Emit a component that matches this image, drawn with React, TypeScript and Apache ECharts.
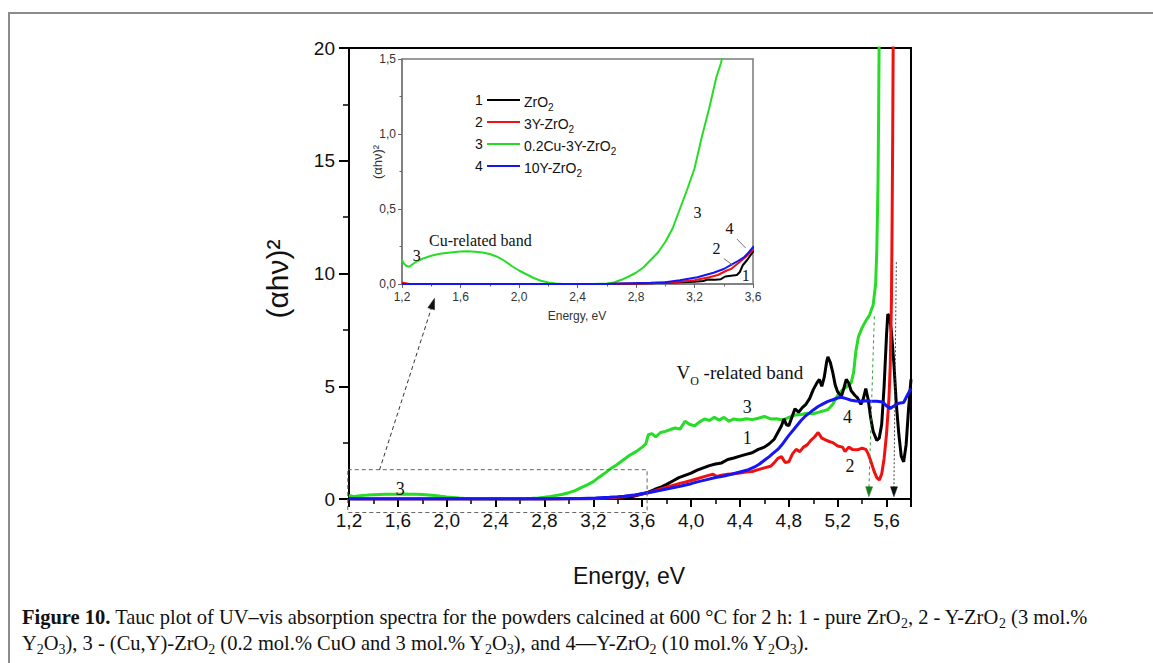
import React, { useEffect, useRef } from "react";
import * as echarts from "echarts";

// ---------- data: [photon energy (eV), (alpha h nu)^2] ----------
const zro2: number[][] = [
  [1.2, 0], [1.6, 0], [2.0, 0], [2.4, 0], [2.6, 0], [2.8, 0.003], [2.9, 0.005], [3.0, 0.008], [3.1, 0.012], [3.2, 0.015],
  [3.26, 0.02], [3.29, 0.03], [3.34, 0.028], [3.38, 0.032], [3.41, 0.05], [3.45, 0.055], [3.49, 0.06], [3.51, 0.08],
  [3.53, 0.125], [3.56, 0.16], [3.6, 0.215], [3.65, 0.3], [3.7, 0.42], [3.75, 0.52], [3.8, 0.65], [3.85, 0.8], [3.9, 0.95],
  [3.95, 1.05], [4.0, 1.15], [4.05, 1.28], [4.1, 1.38], [4.15, 1.48], [4.2, 1.55], [4.25, 1.6], [4.3, 1.75], [4.35, 1.82],
  [4.4, 1.9], [4.45, 1.98], [4.5, 2.05], [4.55, 2.2], [4.6, 2.3], [4.64, 2.45], [4.68, 2.65], [4.71, 2.95], [4.74, 3.25],
  [4.76, 3.55], [4.78, 3.3], [4.8, 3.25], [4.83, 3.7], [4.85, 4.0], [4.88, 3.85], [4.91, 4.05], [4.94, 4.2], [4.97, 4.45],
  [5.0, 4.85], [5.03, 5.15], [5.05, 5.3], [5.07, 5.0], [5.09, 5.4], [5.11, 6.1], [5.12, 6.3], [5.14, 6.05], [5.16, 5.6],
  [5.18, 5.05], [5.2, 4.75], [5.23, 4.55], [5.25, 4.9], [5.27, 5.3], [5.29, 5.15], [5.31, 4.8], [5.34, 4.6], [5.36, 4.5],
  [5.39, 4.2], [5.41, 4.45], [5.43, 4.9], [5.45, 4.4], [5.47, 3.6], [5.49, 3.0], [5.52, 2.6], [5.54, 2.7], [5.56, 3.3],
  [5.58, 5.0], [5.6, 7.3], [5.61, 8.2], [5.625, 8.1], [5.64, 7.4], [5.66, 6.0], [5.68, 4.2], [5.7, 2.9], [5.72, 1.9],
  [5.74, 1.65], [5.76, 2.4], [5.78, 4.0], [5.8, 5.3],
];

const y3zro2: number[][] = [
  [1.2, 0.01], [1.25, 0], [2.6, 0], [2.8, 0.003], [2.9, 0.005], [3.0, 0.01], [3.1, 0.015], [3.2, 0.025], [3.3, 0.045],
  [3.36, 0.06], [3.42, 0.09], [3.45, 0.1], [3.5, 0.14], [3.55, 0.18], [3.6, 0.227], [3.65, 0.28], [3.7, 0.36], [3.75, 0.45],
  [3.8, 0.52], [3.85, 0.6], [3.9, 0.68], [3.95, 0.75], [4.0, 0.82], [4.05, 0.9], [4.1, 0.98], [4.15, 1.06], [4.18, 1.1],
  [4.21, 1.0], [4.25, 1.05], [4.3, 1.1], [4.35, 1.12], [4.4, 1.15], [4.45, 1.2], [4.5, 1.22], [4.55, 1.3], [4.6, 1.38],
  [4.65, 1.45], [4.68, 1.6], [4.71, 1.8], [4.74, 1.88], [4.77, 1.62], [4.8, 1.65], [4.83, 2.0], [4.86, 2.2], [4.89, 2.1],
  [4.92, 2.3], [4.95, 2.4], [4.98, 2.6], [5.01, 2.75], [5.04, 2.95], [5.07, 2.7], [5.1, 2.62], [5.13, 2.55], [5.16, 2.5],
  [5.2, 2.35], [5.24, 2.3], [5.26, 2.1], [5.29, 2.3], [5.32, 2.2], [5.36, 2.18], [5.4, 2.25], [5.43, 2.2], [5.45, 2.0],
  [5.47, 1.7], [5.5, 1.2], [5.52, 0.95], [5.54, 0.84], [5.56, 1.1], [5.58, 1.8], [5.6, 2.9], [5.62, 4.5], [5.63, 5.9],
  [5.64, 8.8], [5.645, 12], [5.65, 16], [5.655, 21],
];

const cuY3zro2: number[][] = [
  [1.2, 0.16], [1.21, 0.14], [1.23, 0.12], [1.25, 0.115], [1.27, 0.13], [1.3, 0.15], [1.35, 0.172], [1.4, 0.188],
  [1.45, 0.2], [1.5, 0.207], [1.55, 0.212], [1.6, 0.216], [1.65, 0.218], [1.7, 0.215], [1.75, 0.21], [1.8, 0.2],
  [1.85, 0.182], [1.9, 0.155], [1.95, 0.12], [2.0, 0.09], [2.05, 0.065], [2.1, 0.04], [2.15, 0.022], [2.2, 0.01],
  [2.25, 0.003], [2.3, 0], [2.4, 0], [2.5, 0], [2.6, 0.003], [2.65, 0.01], [2.7, 0.028], [2.75, 0.05], [2.8, 0.075],
  [2.85, 0.11], [2.9, 0.16], [2.95, 0.21], [3.0, 0.28], [3.05, 0.37], [3.1, 0.5], [3.15, 0.63], [3.2, 0.77], [3.25, 0.98],
  [3.3, 1.17], [3.35, 1.38], [3.38, 1.47], [3.4, 1.55], [3.45, 1.75], [3.5, 1.95], [3.55, 2.1], [3.6, 2.3], [3.63, 2.45],
  [3.65, 2.85], [3.68, 2.9], [3.71, 2.75], [3.75, 2.95], [3.79, 3.0], [3.83, 3.08], [3.87, 3.15], [3.91, 3.1], [3.95, 3.45],
  [3.99, 3.3], [4.03, 3.25], [4.07, 3.42], [4.11, 3.55], [4.15, 3.48], [4.19, 3.62], [4.23, 3.5], [4.27, 3.62], [4.31, 3.45],
  [4.35, 3.55], [4.4, 3.5], [4.45, 3.56], [4.5, 3.52], [4.55, 3.58], [4.6, 3.66], [4.65, 3.55], [4.7, 3.56], [4.75, 3.5],
  [4.8, 3.62], [4.85, 3.72], [4.9, 3.75], [4.95, 3.8], [5.0, 3.78], [5.04, 3.84], [5.08, 3.9], [5.12, 3.97], [5.16, 4.2],
  [5.2, 4.6], [5.24, 4.85], [5.28, 5.0], [5.31, 5.15], [5.33, 5.6], [5.35, 6.6], [5.37, 7.2], [5.4, 7.6], [5.43, 7.9],
  [5.46, 8.15], [5.49, 8.6], [5.51, 9.5], [5.52, 11], [5.53, 14], [5.535, 17], [5.54, 21],
];

const y10zro2: number[][] = [
  [1.2, 0], [2.6, 0], [2.77, 0.005], [2.9, 0.008], [3.0, 0.012], [3.1, 0.025], [3.22, 0.045], [3.33, 0.075], [3.4, 0.1],
  [3.45, 0.127], [3.5, 0.155], [3.54, 0.18], [3.57, 0.21], [3.6, 0.245], [3.65, 0.28], [3.7, 0.33], [3.78, 0.42],
  [3.85, 0.5], [3.92, 0.58], [4.0, 0.68], [4.06, 0.77], [4.13, 0.86], [4.2, 0.95], [4.27, 1.02], [4.33, 1.1], [4.4, 1.2],
  [4.47, 1.3], [4.52, 1.42], [4.56, 1.55], [4.6, 1.72], [4.64, 1.88], [4.67, 2.02], [4.71, 2.2], [4.74, 2.38], [4.77, 2.6],
  [4.8, 2.82], [4.84, 3.08], [4.87, 3.28], [4.9, 3.48], [4.93, 3.65], [4.97, 3.82], [5.0, 3.95], [5.04, 4.1], [5.08, 4.22],
  [5.12, 4.33], [5.16, 4.4], [5.2, 4.48], [5.23, 4.51], [5.27, 4.45], [5.31, 4.38], [5.35, 4.35], [5.39, 4.33], [5.43, 4.36],
  [5.47, 4.33], [5.52, 4.33], [5.57, 4.3], [5.6, 4.12], [5.63, 4.02], [5.66, 4.12], [5.7, 4.25], [5.74, 4.28], [5.77, 4.6],
  [5.8, 4.9],
];

const seriesNumbers = ["1", "2", "3", "4"];
const seriesNames = ["ZrO2", "3Y-ZrO2", "0.2Cu-3Y-ZrO2", "10Y-ZrO2"];
const seriesRichNames = ["ZrO{s|2}", "3Y-ZrO{s|2}", "0.2Cu-3Y-ZrO{s|2}", "10Y-ZrO{s|2}"];
const seriesColors = ["#000000", "#f01010", "#26dc26", "#1515f5"];
const seriesData = [zro2, y3zro2, cuY3zro2, y10zro2];
const drawOrder = [2, 0, 1, 3];

// annotation anchors in data coordinates
const mainCurveLabels: [string, number, number][] = [
  ["3", 4.46, 4.1], ["1", 4.46, 2.7], ["4", 5.28, 3.65], ["2", 5.3, 1.48], ["3", 1.62, 0.44],
];
const insetCurveLabels: [string, number, number][] = [
  ["3", 1.3, 0.19], ["3", 3.22, 0.48], ["2", 3.35, 0.24], ["4", 3.44, 0.37], ["1", 3.55, 0.06],
];
const insetLeaders: number[][] = [
  [3.4, 0.17, 3.46, 0.127],
  [3.49, 0.3, 3.55, 0.24],
];
const zoomBox = [1.19, 3.64, -0.6, 1.3];

const captionLines = [
  "{b|Figure 10.} Tauc plot of UV–vis absorption spectra for the powders calcined at 600 °C for 2 h: 1 - pure ZrO{s|2}, 2 - Y-ZrO{s|2} (3 mol.%",
  "Y{s|2}O{s|3}), 3 - (Cu,Y)-ZrO{s|2} (0.2 mol.% CuO and 3 mol.% Y{s|2}O{s|3}), and 4—Y-ZrO{s|2} (10 mol.% Y{s|2}O{s|3}).",
];

const SANS = '"Liberation Sans", Arial, sans-serif';
const SERIF = '"Liberation Serif", "Times New Roman", serif';

const fmt1 = (v: number) => {
  const r = Math.round(v * 10) / 10;
  if (Math.abs(Math.round(r * 10) % 4) !== 0) return "";
  return r.toFixed(1).replace(".", ",");
};
const fmtInsetY = (v: number) => (Math.round(v * 10) / 10).toFixed(1).replace(".", ",");

function measureRich(raw: string, fs: number) {
  const ctx = document.createElement("canvas").getContext("2d");
  if (!ctx) return 0;
  const re = /\{(\w+)\|([^}]*)\}|([^{]+)/g;
  let m: RegExpExecArray | null;
  let w = 0;
  while ((m = re.exec(raw))) {
    const style = m[1] || "";
    const t = m[1] ? m[2] : m[3];
    const size = style === "s" ? fs * 0.68 : fs;
    ctx.font = (style === "b" ? "bold " : "") + size + 'px "Liberation Serif"';
    w += ctx.measureText(t).width;
  }
  return w;
}

function arrowHead(tip: number[], from: number[], len: number, wid: number, color: string) {
  const dx = tip[0] - from[0];
  const dy = tip[1] - from[1];
  const d = Math.sqrt(dx * dx + dy * dy) || 1;
  const ux = dx / d, uy = dy / d;
  const bx = tip[0] - ux * len, by = tip[1] - uy * len;
  const nx = -uy * wid / 2, ny = ux * wid / 2;
  return {
    type: "polygon",
    z: 100,
    shape: { points: [[tip[0], tip[1]], [bx + nx, by + ny], [bx - nx, by - ny]] },
    style: { fill: color, stroke: color, lineWidth: 0.5 },
  };
}

export default function App() {
  const ref = useRef<HTMLDivElement>(null);
  useEffect(() => {
    if (!ref.current) return;
    const chart = echarts.init(ref.current, null, { renderer: "svg" });

    const mainSeries = drawOrder.map((i) => ({
      type: "line",
      name: seriesNames[i],
      xAxisIndex: 0,
      yAxisIndex: 0,
      data: seriesData[i],
      showSymbol: false,
      symbol: "none",
      clip: true,
      lineStyle: { color: seriesColors[i], width: 3 },
      z: 2,
    }));
    const insetSeries = drawOrder.map((i) => ({
      type: "line",
      name: seriesNames[i] + " (inset)",
      xAxisIndex: 1,
      yAxisIndex: 1,
      data: seriesData[i],
      showSymbol: false,
      symbol: "none",
      clip: true,
      lineStyle: { color: seriesColors[i], width: 2 },
      z: 3,
    }));

    const option: any = {
      animation: false,
      backgroundColor: "#ffffff",
      grid: [
        { left: 349, top: 48, width: 562, height: 451, show: true, borderColor: "#000", borderWidth: 2, backgroundColor: "transparent" },
        { left: 402, top: 59, width: 351, height: 225, show: true, borderColor: "#7a7a7a", borderWidth: 1.5, backgroundColor: "#ffffff" },
      ],
      xAxis: [
        {
          gridIndex: 0, type: "value", min: 1.2, max: 5.8, interval: 0.4,
          axisLine: { show: true, onZero: false, lineStyle: { color: "#000", width: 2 } },
          axisTick: { show: true, length: 8, lineStyle: { color: "#000", width: 2 } },
          minorTick: { show: true, splitNumber: 2, length: 5, lineStyle: { color: "#000", width: 1.5 } },
          splitLine: { show: false }, minorSplitLine: { show: false },
          axisLabel: { fontSize: 19, color: "#111", fontFamily: SANS, margin: 12, showMaxLabel: false, formatter: fmt1 },
        },
        {
          gridIndex: 1, type: "value", min: 1.2, max: 3.6, interval: 0.4,
          axisLine: { show: true, onZero: false, lineStyle: { color: "#7a7a7a", width: 1.5 } },
          axisTick: { show: true, length: 4, lineStyle: { color: "#666", width: 1 } },
          minorTick: { show: true, splitNumber: 2, length: 2.5, lineStyle: { color: "#666", width: 1 } },
          splitLine: { show: false }, minorSplitLine: { show: false },
          axisLabel: { fontSize: 12, color: "#333", fontFamily: SANS, margin: 7, formatter: fmt1 },
        },
      ],
      yAxis: [
        {
          gridIndex: 0, type: "value", min: 0, max: 20, interval: 5,
          axisLine: { show: true, lineStyle: { color: "#000", width: 2 } },
          axisTick: { show: true, length: 10, lineStyle: { color: "#000", width: 2 } },
          minorTick: { show: true, splitNumber: 2, length: 6, lineStyle: { color: "#000", width: 1.5 } },
          splitLine: { show: false }, minorSplitLine: { show: false },
          axisLabel: { fontSize: 19, color: "#111", fontFamily: SANS, margin: 14 },
        },
        {
          gridIndex: 1, type: "value", min: 0, max: 1.5, interval: 0.5,
          axisLine: { show: true, lineStyle: { color: "#7a7a7a", width: 1.5 } },
          axisTick: { show: true, length: 4, lineStyle: { color: "#666", width: 1 } },
          minorTick: { show: true, splitNumber: 2, length: 2.5, lineStyle: { color: "#666", width: 1 } },
          splitLine: { show: false }, minorSplitLine: { show: false },
          axisLabel: { fontSize: 12, color: "#333", fontFamily: SANS, margin: 6, formatter: fmtInsetY },
        },
      ],
      series: [...mainSeries, ...insetSeries],
    };
    chart.setOption(option);

    const P = (e: number, v: number) => chart.convertToPixel({ gridIndex: 0 } as any, [e, v]) as number[];
    const Q = (e: number, v: number) => chart.convertToPixel({ gridIndex: 1 } as any, [e, v]) as number[];

    const els: any[] = [];
    const text = (x: number, y: number, t: string, s: any) =>
      els.push({ type: "text", x, y, z: 100, style: { text: t, fill: "#111", align: "center", verticalAlign: "middle", ...s } });

    // outer figure frame
    els.push({ type: "rect", z: 100, shape: { x: 9, y: 13, width: 1300, height: 800 }, style: { fill: "none", stroke: "#8c8c8c", lineWidth: 2 } });

    // axis titles
    text(629, 576, "Energy, eV", { fontFamily: SANS, fontSize: 23 });
    els.push({ type: "text", x: 277, y: 279, rotation: Math.PI / 2, z: 100,
      style: { text: "(αhν)²", fill: "#111", fontFamily: SANS, fontSize: 30, align: "center", verticalAlign: "middle" } });
    text(577, 316, "Energy, eV", { fontFamily: SANS, fontSize: 12, fill: "#333" });
    els.push({ type: "text", x: 377, y: 162, rotation: Math.PI / 2, z: 100,
      style: { text: "(αhν)²", fill: "#333", fontFamily: SANS, fontSize: 13, align: "center", verticalAlign: "middle" } });

    // curve numbers on main plot
    mainCurveLabels.forEach(([t, e, v]) => {
      const p = P(e, v);
      text(p[0], p[1], t, { fontFamily: SERIF, fontSize: 18 });
    });
    const vo = P(3.88, 5.6);
    els.push({ type: "text", x: vo[0], y: vo[1], z: 100,
      style: { text: "V{s|O} -related band", fill: "#111", fontFamily: SERIF, fontSize: 19, lineHeight: 28, align: "left", verticalAlign: "middle",
        rich: { s: { fontFamily: SERIF, fontSize: 12, lineHeight: 12, verticalAlign: "bottom" } } } });

    // dashed zoom box and arrow to inset
    const b1 = P(zoomBox[0], zoomBox[3]);
    const b2 = P(zoomBox[1], zoomBox[2]);
    els.push({ type: "rect", z: 100, shape: { x: b1[0], y: b1[1], width: b2[0] - b1[0], height: b2[1] - b1[1] },
      style: { fill: "none", stroke: "#666", lineWidth: 1, lineDash: [4, 3] } });
    const a0 = P(1.45, 1.29);
    const a1 = P(1.9, 8.9);
    els.push({ type: "line", z: 100, shape: { x1: a0[0], y1: a0[1], x2: a1[0] - (a1[0] - a0[0]) * 0.05, y2: a1[1] - (a1[1] - a0[1]) * 0.05 },
      style: { stroke: "#333", lineWidth: 1, lineDash: [4, 3] } });
    els.push(arrowHead(a1, a0, 11, 7, "#111"));

    // band-gap arrows
    const g0 = P(5.5, 8.1), g1 = P(5.455, 0.1);
    els.push({ type: "line", z: 100, shape: { x1: g0[0], y1: g0[1], x2: g1[0], y2: g1[1] - 6 }, style: { stroke: "#3a9a3a", lineWidth: 1, lineDash: [3, 3] } });
    els.push(arrowHead(g1, g0, 10, 7, "#1b7a1b"));
    const k0 = P(5.68, 10.5), k1 = P(5.66, 0.1);
    els.push({ type: "line", z: 100, shape: { x1: k0[0], y1: k0[1], x2: k1[0], y2: k1[1] - 6 }, style: { stroke: "#444", lineWidth: 1, lineDash: [2, 2] } });
    els.push(arrowHead(k1, k0, 10, 7, "#111"));

    // inset annotations
    insetCurveLabels.forEach(([t, e, v]) => {
      const p = Q(e, v);
      text(p[0], p[1], t, { fontFamily: SERIF, fontSize: 16 });
    });
    insetLeaders.forEach((l) => {
      const s = Q(l[0], l[1]), f = Q(l[2], l[3]);
      els.push({ type: "line", z: 100, shape: { x1: s[0], y1: s[1], x2: f[0], y2: f[1] }, style: { stroke: "#777", lineWidth: 1 } });
    });
    const cu = Q(1.385, 0.29);
    els.push({ type: "text", x: cu[0], y: cu[1], z: 100,
      style: { text: "Cu-related band", fill: "#111", fontFamily: SERIF, fontSize: 16, align: "left", verticalAlign: "middle" } });

    // inset legend
    seriesNumbers.forEach((n, i) => {
      const y = 100 + i * 22;
      text(479, y, n, { fontFamily: SANS, fontSize: 14 });
      els.push({ type: "line", z: 100, shape: { x1: 487, y1: y, x2: 520, y2: y }, style: { stroke: seriesColors[i], lineWidth: 2 } });
      els.push({ type: "text", x: 524, y: y + 2, z: 100,
        style: { text: seriesRichNames[i], fill: "#111", fontFamily: SANS, fontSize: 14, lineHeight: 20, align: "left", verticalAlign: "middle",
          rich: { s: { fontFamily: SANS, fontSize: 10, lineHeight: 10, verticalAlign: "bottom" } } } });
    });

    // caption (font size chosen so that the first line spans the column)
    const w16 = measureRich(captionLines[0], 16);
    let fs = w16 > 0 ? (16 * 1066) / w16 : 19;
    fs = Math.max(14, Math.min(22, fs));
    const capRich = {
      b: { fontFamily: SERIF, fontSize: fs, fontWeight: "bold", lineHeight: fs * 1.3 },
      s: { fontFamily: SERIF, fontSize: fs * 0.68, lineHeight: fs * 0.68, verticalAlign: "bottom" },
    };
    captionLines.forEach((line, i) => {
      els.push({ type: "text", x: 22, y: 617 + i * 26, z: 100,
        style: { text: line, fill: "#111", fontFamily: SERIF, fontSize: fs, lineHeight: fs * 1.3, align: "left", verticalAlign: "middle", rich: capRich } });
    });

    chart.setOption({ graphic: { elements: els } });

    return () => chart.dispose();
  }, []);

  return <div ref={ref} style={{ position: "absolute", left: 0, top: 0, width: 1153, height: 663 }} />;
}
